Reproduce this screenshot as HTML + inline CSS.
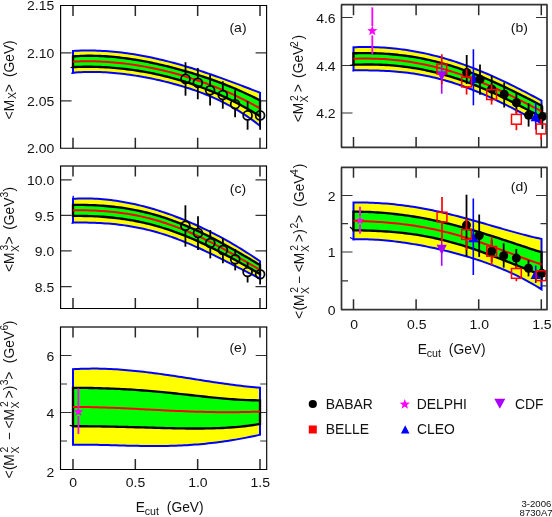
<!DOCTYPE html>
<html><head><meta charset="utf-8"><title>moments</title>
<style>html,body{margin:0;padding:0;background:#fff;}svg{display:block;will-change:transform;}</style></head><body>
<svg width="552" height="517" viewBox="0 0 552 517">
<rect width="552" height="517" fill="#fff"/>
<path d="M73 5.5v10.5M73 148.2v-10.5M135.33 5.5v10.5M135.33 148.2v-10.5M197.67 5.5v10.5M197.67 148.2v-10.5M260 5.5v10.5M260 148.2v-10.5" stroke="#2a2a2a" stroke-width="1.5" fill="none"/>
<path d="M60.6 52.9h11M266.6 52.9h-11M60.6 100.9h11M266.6 100.9h-11" stroke="#333" stroke-width="1.2" fill="none"/>
<polygon points="73,50.92 75.71,50.79 78.42,50.68 81.13,50.59 83.84,50.54 86.55,50.51 89.26,50.52 91.97,50.55 94.68,50.6 97.39,50.69 100.1,50.8 102.81,50.93 105.52,51.1 108.23,51.28 110.94,51.5 113.65,51.74 116.36,52 119.07,52.29 121.78,52.61 124.49,52.95 127.2,53.31 129.91,53.7 132.62,54.11 135.33,54.54 138.04,54.99 140.75,55.47 143.46,55.97 146.17,56.49 148.88,57.04 151.59,57.6 154.3,58.18 157.01,58.79 159.72,59.41 162.43,60.06 165.14,60.72 167.86,61.4 170.57,62.1 173.28,62.82 175.99,63.56 178.7,64.31 181.41,65.08 184.12,65.87 186.83,66.67 189.54,67.49 192.25,68.33 194.96,69.17 197.67,70.04 200.38,70.91 203.09,71.8 205.8,72.71 208.51,73.62 211.22,74.55 213.93,75.49 216.64,76.44 219.35,77.4 222.06,78.37 224.77,79.35 227.48,80.34 230.19,81.34 232.9,82.35 235.61,83.36 238.32,84.38 241.03,85.41 243.74,86.45 246.45,87.49 249.16,88.53 251.87,89.58 254.58,90.63 257.29,91.69 260,92.75 260,125.85 257.29,123.71 254.58,121.65 251.87,119.66 249.16,117.74 246.45,115.88 243.74,114.09 241.03,112.36 238.32,110.68 235.61,109.07 232.9,107.51 230.19,106 227.48,104.54 224.77,103.13 222.06,101.77 219.35,100.46 216.64,99.19 213.93,97.96 211.22,96.77 208.51,95.62 205.8,94.51 203.09,93.44 200.38,92.4 197.67,91.4 194.96,90.42 192.25,89.48 189.54,88.57 186.83,87.69 184.12,86.84 181.41,86.01 178.7,85.22 175.99,84.44 173.28,83.7 170.57,82.97 167.86,82.28 165.14,81.6 162.43,80.95 159.72,80.32 157.01,79.71 154.3,79.13 151.59,78.56 148.88,78.02 146.17,77.5 143.46,77 140.75,76.52 138.04,76.06 135.33,75.63 132.62,75.21 129.91,74.82 127.2,74.45 124.49,74.11 121.78,73.79 119.07,73.49 116.36,73.21 113.65,72.96 110.94,72.74 108.23,72.54 105.52,72.37 102.81,72.22 100.1,72.11 97.39,72.02 94.68,71.97 91.97,71.95 89.26,71.96 86.55,72.01 83.84,72.09 81.13,72.21 78.42,72.36 75.71,72.56 73,72.8" fill="#ffff00" stroke="#0000ff" stroke-width="2" stroke-linejoin="miter"/>
<polygon points="73,56.47 75.71,56.26 78.42,56.08 81.13,55.95 83.84,55.85 86.55,55.79 89.26,55.76 91.97,55.76 94.68,55.8 97.39,55.88 100.1,55.98 102.81,56.11 105.52,56.27 108.23,56.46 110.94,56.68 113.65,56.92 116.36,57.19 119.07,57.49 121.78,57.81 124.49,58.15 127.2,58.52 129.91,58.9 132.62,59.32 135.33,59.75 138.04,60.2 140.75,60.68 143.46,61.17 146.17,61.68 148.88,62.22 151.59,62.77 154.3,63.34 157.01,63.93 159.72,64.54 162.43,65.16 165.14,65.81 167.86,66.47 170.57,67.15 173.28,67.84 175.99,68.55 178.7,69.28 181.41,70.03 184.12,70.8 186.83,71.58 189.54,72.38 192.25,73.2 194.96,74.03 197.67,74.88 200.38,75.75 203.09,76.64 205.8,77.55 208.51,78.48 211.22,79.43 213.93,80.39 216.64,81.38 219.35,82.39 222.06,83.42 224.77,84.47 227.48,85.54 230.19,86.63 232.9,87.75 235.61,88.89 238.32,90.06 241.03,91.26 243.74,92.47 246.45,93.72 249.16,94.99 251.87,96.3 254.58,97.63 257.29,98.99 260,100.38 260,116.27 257.29,114.58 254.58,112.93 251.87,111.31 249.16,109.73 246.45,108.19 243.74,106.69 241.03,105.22 238.32,103.78 235.61,102.37 232.9,101 230.19,99.67 227.48,98.36 224.77,97.09 222.06,95.85 219.35,94.63 216.64,93.45 213.93,92.3 211.22,91.18 208.51,90.08 205.8,89.02 203.09,87.98 200.38,86.97 197.67,85.99 194.96,85.04 192.25,84.11 189.54,83.21 186.83,82.33 184.12,81.48 181.41,80.66 178.7,79.86 175.99,79.09 173.28,78.34 170.57,77.62 167.86,76.92 165.14,76.24 162.43,75.59 159.72,74.96 157.01,74.36 154.3,73.77 151.59,73.22 148.88,72.68 146.17,72.17 143.46,71.68 140.75,71.22 138.04,70.78 135.33,70.36 132.62,69.96 129.91,69.58 127.2,69.23 124.49,68.9 121.78,68.6 119.07,68.32 116.36,68.06 113.65,67.82 110.94,67.6 108.23,67.41 105.52,67.25 102.81,67.1 100.1,66.98 97.39,66.88 94.68,66.81 91.97,66.76 89.26,66.73 86.55,66.73 83.84,66.76 81.13,66.8 78.42,66.88 75.71,66.97 73,67.1" fill="#00ff00" stroke="#000" stroke-width="2.35" stroke-linejoin="miter"/>
<polyline points="73,61.73 75.71,61.58 78.42,61.46 81.13,61.37 83.84,61.31 86.55,61.28 89.26,61.27 91.97,61.3 94.68,61.34 97.39,61.42 100.1,61.52 102.81,61.64 105.52,61.79 108.23,61.97 110.94,62.17 113.65,62.39 116.36,62.64 119.07,62.91 121.78,63.21 124.49,63.53 127.2,63.87 129.91,64.23 132.62,64.62 135.33,65.03 138.04,65.46 140.75,65.91 143.46,66.39 146.17,66.88 148.88,67.4 151.59,67.94 154.3,68.51 157.01,69.09 159.72,69.69 162.43,70.32 165.14,70.97 167.86,71.64 170.57,72.33 173.28,73.04 175.99,73.78 178.7,74.53 181.41,75.31 184.12,76.11 186.83,76.93 189.54,77.78 192.25,78.64 194.96,79.53 197.67,80.44 200.38,81.37 203.09,82.33 205.8,83.31 208.51,84.32 211.22,85.34 213.93,86.39 216.64,87.47 219.35,88.57 222.06,89.7 224.77,90.85 227.48,92.02 230.19,93.22 232.9,94.45 235.61,95.71 238.32,96.99 241.03,98.3 243.74,99.64 246.45,101.01 249.16,102.4 251.87,103.83 254.58,105.28 257.29,106.77 260,108.28" fill="none" stroke="#ff0000" stroke-width="2"/>
<line x1="70.6" y1="67.6" x2="73.2" y2="67.2" stroke="#000" stroke-width="1.3"/>
<line x1="71.2" y1="73.4" x2="73.2" y2="72.9" stroke="#0000ff" stroke-width="1.3"/>
<line x1="185.5" y1="62.2" x2="185.5" y2="74.4" stroke="#000" stroke-width="1.8"/>
<line x1="185.5" y1="83.4" x2="185.5" y2="95.7" stroke="#000" stroke-width="1.8"/>
<line x1="197.8" y1="67.9" x2="197.8" y2="78.3" stroke="#000" stroke-width="1.8"/>
<line x1="197.8" y1="87.3" x2="197.8" y2="99.3" stroke="#000" stroke-width="1.8"/>
<line x1="210.1" y1="75" x2="210.1" y2="85.7" stroke="#000" stroke-width="1.8"/>
<line x1="210.1" y1="94.7" x2="210.1" y2="105.4" stroke="#000" stroke-width="1.8"/>
<line x1="222.8" y1="81.3" x2="222.8" y2="90.5" stroke="#000" stroke-width="1.8"/>
<line x1="222.8" y1="99.5" x2="222.8" y2="108.7" stroke="#000" stroke-width="1.8"/>
<line x1="235.1" y1="90.2" x2="235.1" y2="99.7" stroke="#000" stroke-width="1.8"/>
<line x1="235.1" y1="108.7" x2="235.1" y2="117.2" stroke="#000" stroke-width="1.8"/>
<line x1="247.6" y1="101.3" x2="247.6" y2="110.9" stroke="#000" stroke-width="1.8"/>
<line x1="247.6" y1="119.9" x2="247.6" y2="129.7" stroke="#000" stroke-width="1.8"/>
<line x1="260.1" y1="102" x2="260.1" y2="110.9" stroke="#000" stroke-width="1.8"/>
<line x1="260.1" y1="119.9" x2="260.1" y2="129.7" stroke="#000" stroke-width="1.8"/>
<circle cx="185.5" cy="78.9" r="4.45" fill="none" stroke="#000" stroke-width="1.75"/>
<circle cx="197.8" cy="82.8" r="4.45" fill="none" stroke="#000" stroke-width="1.75"/>
<circle cx="210.1" cy="90.2" r="4.45" fill="none" stroke="#000" stroke-width="1.75"/>
<circle cx="222.8" cy="95" r="4.45" fill="none" stroke="#000" stroke-width="1.75"/>
<circle cx="235.1" cy="104.2" r="4.45" fill="none" stroke="#000" stroke-width="1.75"/>
<circle cx="247.6" cy="115.4" r="4.45" fill="none" stroke="#000" stroke-width="1.75"/>
<circle cx="260.1" cy="115.4" r="4.45" fill="none" stroke="#000" stroke-width="1.75"/>
<line x1="60.1" y1="5.5" x2="267.1" y2="5.5" stroke="#000" stroke-width="1.15"/>
<line x1="266.6" y1="5.5" x2="266.6" y2="148.2" stroke="#000" stroke-width="1.15"/>
<line x1="60.1" y1="148.2" x2="267.1" y2="148.2" stroke="#000" stroke-width="1.15"/>
<line x1="60.6" y1="5.5" x2="60.6" y2="148.2" stroke="#000" stroke-width="1.15"/>
<text transform="translate(54.2 10.2) scale(1.045 1)" text-anchor="end" font-size="13.4" font-family="Liberation Sans, sans-serif" fill="#111">2.15</text>
<text transform="translate(54.2 58.1) scale(1.045 1)" text-anchor="end" font-size="13.4" font-family="Liberation Sans, sans-serif" fill="#111">2.10</text>
<text transform="translate(54.2 106.1) scale(1.045 1)" text-anchor="end" font-size="13.4" font-family="Liberation Sans, sans-serif" fill="#111">2.05</text>
<text transform="translate(54.2 153.4) scale(1.045 1)" text-anchor="end" font-size="13.4" font-family="Liberation Sans, sans-serif" fill="#111">2.00</text>
<text transform="translate(238 32.4) scale(1.045 1)" text-anchor="middle" font-size="13.4" font-family="Liberation Sans, sans-serif" fill="#111">(a)</text>
<path d="M73 166v10.5M73 308.5v-10.5M135.33 166v10.5M135.33 308.5v-10.5M197.67 166v10.5M197.67 308.5v-10.5M260 166v10.5M260 308.5v-10.5" stroke="#2a2a2a" stroke-width="1.5" fill="none"/>
<path d="M60.6 179.8h11M266.5 179.8h-11M60.6 215.3h11M266.5 215.3h-11M60.6 250.8h11M266.5 250.8h-11M60.6 286.7h11M266.5 286.7h-11" stroke="#333" stroke-width="1.2" fill="none"/>
<polygon points="73,198.79 75.71,198.65 78.42,198.54 81.13,198.48 83.84,198.45 86.55,198.46 89.26,198.5 91.97,198.58 94.68,198.69 97.39,198.84 100.1,199.02 102.81,199.24 105.52,199.49 108.23,199.78 110.94,200.09 113.65,200.44 116.36,200.82 119.07,201.23 121.78,201.68 124.49,202.15 127.2,202.66 129.91,203.19 132.62,203.76 135.33,204.35 138.04,204.98 140.75,205.63 143.46,206.31 146.17,207.02 148.88,207.76 151.59,208.53 154.3,209.33 157.01,210.15 159.72,211 162.43,211.88 165.14,212.79 167.86,213.72 170.57,214.68 173.28,215.67 175.99,216.69 178.7,217.73 181.41,218.79 184.12,219.89 186.83,221.01 189.54,222.15 192.25,223.33 194.96,224.53 197.67,225.75 200.38,227 203.09,228.28 205.8,229.58 208.51,230.91 211.22,232.27 213.93,233.65 216.64,235.06 219.35,236.49 222.06,237.95 224.77,239.44 227.48,240.95 230.19,242.49 232.9,244.05 235.61,245.64 238.32,247.26 241.03,248.91 243.74,250.58 246.45,252.28 249.16,254.01 251.87,255.77 254.58,257.55 257.29,259.36 260,261.2 260,278.34 257.29,277.06 254.58,275.75 251.87,274.42 249.16,273.08 246.45,271.72 243.74,270.35 241.03,268.97 238.32,267.59 235.61,266.2 232.9,264.81 230.19,263.42 227.48,262.04 224.77,260.65 222.06,259.28 219.35,257.91 216.64,256.56 213.93,255.21 211.22,253.89 208.51,252.57 205.8,251.28 203.09,250 200.38,248.74 197.67,247.51 194.96,246.3 192.25,245.11 189.54,243.95 186.83,242.81 184.12,241.7 181.41,240.62 178.7,239.57 175.99,238.55 173.28,237.56 170.57,236.6 167.86,235.67 165.14,234.78 162.43,233.92 159.72,233.09 157.01,232.29 154.3,231.53 151.59,230.81 148.88,230.11 146.17,229.45 143.46,228.83 140.75,228.23 138.04,227.67 135.33,227.15 132.62,226.65 129.91,226.19 127.2,225.77 124.49,225.37 121.78,225 119.07,224.66 116.36,224.35 113.65,224.07 110.94,223.82 108.23,223.59 105.52,223.39 102.81,223.21 100.1,223.06 97.39,222.93 94.68,222.81 91.97,222.72 89.26,222.64 86.55,222.58 83.84,222.53 81.13,222.49 78.42,222.47 75.71,222.45 73,222.44" fill="#ffff00" stroke="#0000ff" stroke-width="2" stroke-linejoin="miter"/>
<polygon points="73,204.9 75.71,204.89 78.42,204.9 81.13,204.91 83.84,204.95 86.55,205 89.26,205.08 91.97,205.17 94.68,205.28 97.39,205.42 100.1,205.58 102.81,205.76 105.52,205.97 108.23,206.21 110.94,206.47 113.65,206.75 116.36,207.07 119.07,207.41 121.78,207.78 124.49,208.19 127.2,208.62 129.91,209.08 132.62,209.57 135.33,210.09 138.04,210.65 140.75,211.24 143.46,211.85 146.17,212.51 148.88,213.19 151.59,213.9 154.3,214.65 157.01,215.43 159.72,216.24 162.43,217.09 165.14,217.97 167.86,218.88 170.57,219.82 173.28,220.79 175.99,221.79 178.7,222.83 181.41,223.9 184.12,224.99 186.83,226.12 189.54,227.28 192.25,228.46 194.96,229.67 197.67,230.91 200.38,232.18 203.09,233.48 205.8,234.8 208.51,236.14 211.22,237.51 213.93,238.9 216.64,240.31 219.35,241.75 222.06,243.2 224.77,244.68 227.48,246.17 230.19,247.68 232.9,249.2 235.61,250.74 238.32,252.3 241.03,253.86 243.74,255.44 246.45,257.02 249.16,258.61 251.87,260.21 254.58,261.82 257.29,263.42 260,265.03 260,274.01 257.29,272.46 254.58,270.92 251.87,269.38 249.16,267.84 246.45,266.31 243.74,264.79 241.03,263.27 238.32,261.76 235.61,260.27 232.9,258.78 230.19,257.31 227.48,255.86 224.77,254.42 222.06,253 219.35,251.59 216.64,250.21 213.93,248.84 211.22,247.5 208.51,246.17 205.8,244.88 203.09,243.6 200.38,242.35 197.67,241.12 194.96,239.92 192.25,238.75 189.54,237.6 186.83,236.49 184.12,235.4 181.41,234.34 178.7,233.3 175.99,232.3 173.28,231.33 170.57,230.39 167.86,229.48 165.14,228.6 162.43,227.75 159.72,226.93 157.01,226.14 154.3,225.39 151.59,224.66 148.88,223.97 146.17,223.31 143.46,222.68 140.75,222.08 138.04,221.52 135.33,220.98 132.62,220.47 129.91,219.99 127.2,219.55 124.49,219.13 121.78,218.74 119.07,218.38 116.36,218.05 113.65,217.74 110.94,217.46 108.23,217.21 105.52,216.98 102.81,216.78 100.1,216.6 97.39,216.44 94.68,216.31 91.97,216.19 89.26,216.1 86.55,216.03 83.84,215.97 81.13,215.93 78.42,215.91 75.71,215.9 73,215.9" fill="#00ff00" stroke="#000" stroke-width="2.35" stroke-linejoin="miter"/>
<polyline points="73,210.33 75.71,210.3 78.42,210.3 81.13,210.3 83.84,210.32 86.55,210.37 89.26,210.43 91.97,210.51 94.68,210.61 97.39,210.74 100.1,210.88 102.81,211.06 105.52,211.25 108.23,211.48 110.94,211.73 113.65,212 116.36,212.31 119.07,212.64 121.78,213 124.49,213.39 127.2,213.81 129.91,214.27 132.62,214.75 135.33,215.26 138.04,215.81 140.75,216.39 143.46,217 146.17,217.64 148.88,218.31 151.59,219.02 154.3,219.76 157.01,220.53 159.72,221.33 162.43,222.17 165.14,223.04 167.86,223.94 170.57,224.88 173.28,225.84 175.99,226.84 178.7,227.87 181.41,228.93 184.12,230.02 186.83,231.14 189.54,232.29 192.25,233.47 194.96,234.68 197.67,235.91 200.38,237.17 203.09,238.46 205.8,239.78 208.51,241.12 211.22,242.48 213.93,243.87 216.64,245.28 219.35,246.71 222.06,248.16 224.77,249.63 227.48,251.12 230.19,252.62 232.9,254.14 235.61,255.68 238.32,257.23 241.03,258.79 243.74,260.36 246.45,261.95 249.16,263.54 251.87,265.13 254.58,266.73 257.29,268.34 260,269.95" fill="none" stroke="#ff0000" stroke-width="2"/>
<line x1="73.2" y1="195.8" x2="73.2" y2="199" stroke="#0000ff" stroke-width="1.3"/>
<line x1="71.5" y1="223.3" x2="73.4" y2="222.6" stroke="#0000ff" stroke-width="1.3"/>
<line x1="185.4" y1="205.3" x2="185.4" y2="221.3" stroke="#000" stroke-width="1.8"/>
<line x1="185.4" y1="230.3" x2="185.4" y2="246.7" stroke="#000" stroke-width="1.8"/>
<line x1="198" y1="216.2" x2="198" y2="228.6" stroke="#000" stroke-width="1.8"/>
<line x1="198" y1="237.6" x2="198" y2="250" stroke="#000" stroke-width="1.8"/>
<line x1="210.3" y1="230" x2="210.3" y2="238.6" stroke="#000" stroke-width="1.8"/>
<line x1="210.3" y1="247.6" x2="210.3" y2="258.4" stroke="#000" stroke-width="1.8"/>
<line x1="222.9" y1="238.4" x2="222.9" y2="245.5" stroke="#000" stroke-width="1.8"/>
<line x1="222.9" y1="254.5" x2="222.9" y2="263.3" stroke="#000" stroke-width="1.8"/>
<line x1="235.2" y1="249" x2="235.2" y2="254.7" stroke="#000" stroke-width="1.8"/>
<line x1="235.2" y1="263.7" x2="235.2" y2="270.4" stroke="#000" stroke-width="1.8"/>
<line x1="247.6" y1="262.4" x2="247.6" y2="267.5" stroke="#000" stroke-width="1.8"/>
<line x1="247.6" y1="276.5" x2="247.6" y2="282.5" stroke="#000" stroke-width="1.8"/>
<line x1="260.1" y1="264.5" x2="260.1" y2="269.8" stroke="#000" stroke-width="1.8"/>
<line x1="260.1" y1="278.8" x2="260.1" y2="284.6" stroke="#000" stroke-width="1.8"/>
<circle cx="185.4" cy="225.8" r="4.45" fill="none" stroke="#000" stroke-width="1.75"/>
<circle cx="198" cy="233.1" r="4.45" fill="none" stroke="#000" stroke-width="1.75"/>
<circle cx="210.3" cy="243.1" r="4.45" fill="none" stroke="#000" stroke-width="1.75"/>
<circle cx="222.9" cy="250" r="4.45" fill="none" stroke="#000" stroke-width="1.75"/>
<circle cx="235.2" cy="259.2" r="4.45" fill="none" stroke="#000" stroke-width="1.75"/>
<circle cx="247.6" cy="272" r="4.45" fill="none" stroke="#000" stroke-width="1.75"/>
<circle cx="260.1" cy="274.3" r="4.45" fill="none" stroke="#000" stroke-width="1.75"/>
<line x1="60.1" y1="166" x2="267" y2="166" stroke="#333" stroke-width="1.7"/>
<line x1="266.5" y1="166" x2="266.5" y2="308.5" stroke="#000" stroke-width="1.15"/>
<line x1="60.1" y1="308.5" x2="267" y2="308.5" stroke="#000" stroke-width="1.15"/>
<line x1="60.6" y1="166" x2="60.6" y2="308.5" stroke="#000" stroke-width="1.15"/>
<text transform="translate(54.2 185) scale(1.045 1)" text-anchor="end" font-size="13.4" font-family="Liberation Sans, sans-serif" fill="#111">10.0</text>
<text transform="translate(54.2 220.5) scale(1.045 1)" text-anchor="end" font-size="13.4" font-family="Liberation Sans, sans-serif" fill="#111">9.5</text>
<text transform="translate(54.2 256) scale(1.045 1)" text-anchor="end" font-size="13.4" font-family="Liberation Sans, sans-serif" fill="#111">9.0</text>
<text transform="translate(54.2 291.9) scale(1.045 1)" text-anchor="end" font-size="13.4" font-family="Liberation Sans, sans-serif" fill="#111">8.5</text>
<text transform="translate(238 192.6) scale(1.045 1)" text-anchor="middle" font-size="13.4" font-family="Liberation Sans, sans-serif" fill="#111">(c)</text>
<path d="M73 327v10.5M73 469.5v-10.5M135.33 327v10.5M135.33 469.5v-10.5M197.67 327v10.5M197.67 469.5v-10.5M260 327v10.5M260 469.5v-10.5" stroke="#2a2a2a" stroke-width="1.5" fill="none"/>
<path d="M60.5 355.5h11M266.7 355.5h-11M60.5 384h6.5M266.7 384h-6.5M60.5 412.5h11M266.7 412.5h-11M60.5 441h6.5M266.7 441h-6.5" stroke="#333" stroke-width="1.2" fill="none"/>
<polygon points="73,369.25 75.71,369.09 78.42,368.95 81.13,368.83 83.84,368.74 86.55,368.67 89.26,368.63 91.97,368.6 94.68,368.6 97.39,368.62 100.1,368.67 102.81,368.73 105.52,368.81 108.23,368.92 110.94,369.04 113.65,369.18 116.36,369.34 119.07,369.51 121.78,369.71 124.49,369.92 127.2,370.14 129.91,370.38 132.62,370.64 135.33,370.91 138.04,371.19 140.75,371.49 143.46,371.8 146.17,372.12 148.88,372.45 151.59,372.79 154.3,373.14 157.01,373.51 159.72,373.88 162.43,374.26 165.14,374.64 167.86,375.03 170.57,375.43 173.28,375.84 175.99,376.25 178.7,376.66 181.41,377.08 184.12,377.5 186.83,377.93 189.54,378.35 192.25,378.78 194.96,379.21 197.67,379.63 200.38,380.06 203.09,380.48 205.8,380.9 208.51,381.32 211.22,381.74 213.93,382.15 216.64,382.55 219.35,382.95 222.06,383.35 224.77,383.73 227.48,384.11 230.19,384.48 232.9,384.84 235.61,385.18 238.32,385.52 241.03,385.85 243.74,386.16 246.45,386.46 249.16,386.75 251.87,387.02 254.58,387.27 257.29,387.51 260,387.73 260,434.75 257.29,435.36 254.58,435.95 251.87,436.52 249.16,437.08 246.45,437.62 243.74,438.14 241.03,438.64 238.32,439.13 235.61,439.61 232.9,440.06 230.19,440.5 227.48,440.92 224.77,441.32 222.06,441.7 219.35,442.07 216.64,442.42 213.93,442.75 211.22,443.06 208.51,443.36 205.8,443.64 203.09,443.9 200.38,444.15 197.67,444.38 194.96,444.59 192.25,444.79 189.54,444.97 186.83,445.13 184.12,445.28 181.41,445.42 178.7,445.54 175.99,445.64 173.28,445.74 170.57,445.81 167.86,445.88 165.14,445.93 162.43,445.97 159.72,446 157.01,446.02 154.3,446.02 151.59,446.02 148.88,446.01 146.17,445.98 143.46,445.95 140.75,445.91 138.04,445.87 135.33,445.82 132.62,445.76 129.91,445.7 127.2,445.63 124.49,445.56 121.78,445.49 119.07,445.42 116.36,445.34 113.65,445.27 110.94,445.19 108.23,445.12 105.52,445.05 102.81,444.99 100.1,444.93 97.39,444.87 94.68,444.82 91.97,444.78 89.26,444.75 86.55,444.73 83.84,444.72 81.13,444.72 78.42,444.73 75.71,444.76 73,444.81" fill="#ffff00" stroke="#0000ff" stroke-width="2" stroke-linejoin="miter"/>
<polygon points="73,387.8 75.71,387.82 78.42,387.84 81.13,387.87 83.84,387.91 86.55,387.95 89.26,387.99 91.97,388.04 94.68,388.1 97.39,388.16 100.1,388.23 102.81,388.3 105.52,388.39 108.23,388.48 110.94,388.58 113.65,388.69 116.36,388.81 119.07,388.94 121.78,389.07 124.49,389.22 127.2,389.37 129.91,389.53 132.62,389.7 135.33,389.88 138.04,390.07 140.75,390.27 143.46,390.47 146.17,390.69 148.88,390.91 151.59,391.14 154.3,391.38 157.01,391.62 159.72,391.87 162.43,392.13 165.14,392.4 167.86,392.67 170.57,392.94 173.28,393.22 175.99,393.51 178.7,393.8 181.41,394.09 184.12,394.38 186.83,394.68 189.54,394.98 192.25,395.28 194.96,395.58 197.67,395.88 200.38,396.17 203.09,396.47 205.8,396.76 208.51,397.05 211.22,397.33 213.93,397.6 216.64,397.87 219.35,398.13 222.06,398.38 224.77,398.62 227.48,398.85 230.19,399.07 232.9,399.28 235.61,399.47 238.32,399.64 241.03,399.8 243.74,399.93 246.45,400.05 249.16,400.15 251.87,400.22 254.58,400.27 257.29,400.3 260,400.3 260,424.01 257.29,424.46 254.58,424.88 251.87,425.28 249.16,425.64 246.45,425.98 243.74,426.29 241.03,426.57 238.32,426.84 235.61,427.08 232.9,427.29 230.19,427.49 227.48,427.66 224.77,427.82 222.06,427.96 219.35,428.08 216.64,428.18 213.93,428.27 211.22,428.34 208.51,428.4 205.8,428.45 203.09,428.48 200.38,428.51 197.67,428.52 194.96,428.52 192.25,428.51 189.54,428.49 186.83,428.47 184.12,428.44 181.41,428.4 178.7,428.35 175.99,428.3 173.28,428.25 170.57,428.19 167.86,428.12 165.14,428.05 162.43,427.98 159.72,427.91 157.01,427.84 154.3,427.76 151.59,427.68 148.88,427.6 146.17,427.52 143.46,427.45 140.75,427.37 138.04,427.29 135.33,427.22 132.62,427.14 129.91,427.07 127.2,427 124.49,426.93 121.78,426.86 119.07,426.8 116.36,426.74 113.65,426.68 110.94,426.62 108.23,426.57 105.52,426.52 102.81,426.48 100.1,426.44 97.39,426.4 94.68,426.36 91.97,426.33 89.26,426.3 86.55,426.28 83.84,426.26 81.13,426.24 78.42,426.22 75.71,426.21 73,426.2" fill="#00ff00" stroke="#000" stroke-width="2.35" stroke-linejoin="miter"/>
<polyline points="73,406.99 75.71,406.99 78.42,406.99 81.13,407.01 83.84,407.04 86.55,407.08 89.26,407.12 91.97,407.18 94.68,407.24 97.39,407.31 100.1,407.38 102.81,407.47 105.52,407.56 108.23,407.66 110.94,407.76 113.65,407.86 116.36,407.98 119.07,408.09 121.78,408.21 124.49,408.34 127.2,408.46 129.91,408.59 132.62,408.73 135.33,408.86 138.04,409 140.75,409.14 143.46,409.27 146.17,409.41 148.88,409.55 151.59,409.69 154.3,409.83 157.01,409.97 159.72,410.11 162.43,410.24 165.14,410.38 167.86,410.51 170.57,410.64 173.28,410.76 175.99,410.89 178.7,411.01 181.41,411.12 184.12,411.23 186.83,411.34 189.54,411.44 192.25,411.54 194.96,411.63 197.67,411.72 200.38,411.8 203.09,411.87 205.8,411.94 208.51,412 211.22,412.06 213.93,412.1 216.64,412.14 219.35,412.17 222.06,412.2 224.77,412.21 227.48,412.22 230.19,412.21 232.9,412.2 235.61,412.18 238.32,412.14 241.03,412.1 243.74,412.05 246.45,411.99 249.16,411.91 251.87,411.83 254.58,411.73 257.29,411.63 260,411.51" fill="none" stroke="#ff0000" stroke-width="2"/>
<line x1="69.7" y1="425.3" x2="73.2" y2="426.1" stroke="#000" stroke-width="1.3"/>
<line x1="78.4" y1="388.3" x2="78.4" y2="407.3" stroke="#ff00ff" stroke-width="1.8"/>
<line x1="78.4" y1="416.05" x2="78.4" y2="434" stroke="#ff00ff" stroke-width="1.8"/>
<polygon points="78.4,406.8 79.63,410.1 83.16,410.25 80.4,412.45 81.34,415.85 78.4,413.9 75.46,415.85 76.4,412.45 73.64,410.25 77.17,410.1" fill="#ff00ff"/>
<line x1="60" y1="327" x2="267.2" y2="327" stroke="#333" stroke-width="1.7"/>
<line x1="266.7" y1="327" x2="266.7" y2="469.5" stroke="#000" stroke-width="1.15"/>
<line x1="60" y1="469.5" x2="267.2" y2="469.5" stroke="#000" stroke-width="1.15"/>
<line x1="60.5" y1="327" x2="60.5" y2="469.5" stroke="#000" stroke-width="1.15"/>
<text transform="translate(54.2 360.7) scale(1.045 1)" text-anchor="end" font-size="13.4" font-family="Liberation Sans, sans-serif" fill="#111">6</text>
<text transform="translate(54.2 417.7) scale(1.045 1)" text-anchor="end" font-size="13.4" font-family="Liberation Sans, sans-serif" fill="#111">4</text>
<text transform="translate(54.2 476.7) scale(1.045 1)" text-anchor="end" font-size="13.4" font-family="Liberation Sans, sans-serif" fill="#111">2</text>
<text transform="translate(238 351.5) scale(1.045 1)" text-anchor="middle" font-size="13.4" font-family="Liberation Sans, sans-serif" fill="#111">(e)</text>
<path d="M353.5 4.7v10.5M353.5 147.4v-10.5M416.1 4.7v10.5M416.1 147.4v-10.5M478.7 4.7v10.5M478.7 147.4v-10.5M541.3 4.7v10.5M541.3 147.4v-10.5" stroke="#2a2a2a" stroke-width="1.5" fill="none"/>
<path d="M341.5 17.5h11M547 17.5h-11M341.5 65.5h11M547 65.5h-11M341.5 113h11M547 113h-11" stroke="#333" stroke-width="1.2" fill="none"/>
<polygon points="353.5,47.22 356.22,47.13 358.95,47.07 361.67,47.03 364.4,47.02 367.12,47.02 369.85,47.06 372.57,47.12 375.3,47.2 378.02,47.31 380.75,47.44 383.47,47.6 386.2,47.79 388.92,48.01 391.64,48.25 394.37,48.51 397.09,48.81 399.82,49.13 402.54,49.48 405.27,49.86 407.99,50.27 410.72,50.7 413.44,51.16 416.17,51.65 418.89,52.17 421.62,52.71 424.34,53.28 427.07,53.88 429.79,54.51 432.51,55.16 435.24,55.85 437.96,56.56 440.69,57.3 443.41,58.06 446.14,58.85 448.86,59.67 451.59,60.51 454.31,61.38 457.04,62.28 459.76,63.2 462.49,64.15 465.21,65.12 467.93,66.12 470.66,67.14 473.38,68.19 476.11,69.26 478.83,70.35 481.56,71.47 484.28,72.61 487.01,73.77 489.73,74.95 492.46,76.15 495.18,77.37 497.91,78.61 500.63,79.87 503.36,81.15 506.08,82.45 508.8,83.76 511.53,85.09 514.25,86.44 516.98,87.8 519.7,89.18 522.43,90.57 525.15,91.97 527.88,93.39 530.6,94.81 533.33,96.25 536.05,97.7 538.78,99.15 541.5,100.62 541.5,123.26 538.78,121.85 536.05,120.44 533.33,119.02 530.6,117.6 527.88,116.18 525.15,114.75 522.43,113.34 519.7,111.92 516.98,110.51 514.25,109.11 511.53,107.72 508.8,106.34 506.08,104.98 503.36,103.63 500.63,102.29 497.91,100.98 495.18,99.68 492.46,98.4 489.73,97.14 487.01,95.91 484.28,94.7 481.56,93.51 478.83,92.35 476.11,91.22 473.38,90.11 470.66,89.03 467.93,87.98 465.21,86.96 462.49,85.97 459.76,85.01 457.04,84.08 454.31,83.18 451.59,82.32 448.86,81.48 446.14,80.68 443.41,79.91 440.69,79.18 437.96,78.47 435.24,77.8 432.51,77.16 429.79,76.56 427.07,75.99 424.34,75.44 421.62,74.93 418.89,74.46 416.17,74.01 413.44,73.59 410.72,73.21 407.99,72.85 405.27,72.52 402.54,72.22 399.82,71.94 397.09,71.69 394.37,71.47 391.64,71.27 388.92,71.09 386.2,70.94 383.47,70.81 380.75,70.69 378.02,70.6 375.3,70.52 372.57,70.46 369.85,70.41 367.12,70.37 364.4,70.35 361.67,70.33 358.95,70.32 356.22,70.32 353.5,70.32" fill="#ffff00" stroke="#0000ff" stroke-width="2" stroke-linejoin="miter"/>
<polygon points="353.5,53.27 356.22,53.21 358.95,53.16 361.67,53.13 364.4,53.12 367.12,53.13 369.85,53.16 372.57,53.21 375.3,53.29 378.02,53.39 380.75,53.51 383.47,53.65 386.2,53.83 388.92,54.02 391.64,54.24 394.37,54.49 397.09,54.76 399.82,55.06 402.54,55.39 405.27,55.74 407.99,56.12 410.72,56.52 413.44,56.96 416.17,57.42 418.89,57.91 421.62,58.43 424.34,58.98 427.07,59.55 429.79,60.15 432.51,60.78 435.24,61.44 437.96,62.13 440.69,62.84 443.41,63.58 446.14,64.35 448.86,65.15 451.59,65.98 454.31,66.83 457.04,67.71 459.76,68.61 462.49,69.54 465.21,70.5 467.93,71.48 470.66,72.49 473.38,73.52 476.11,74.58 478.83,75.66 481.56,76.77 484.28,77.89 487.01,79.04 489.73,80.21 492.46,81.41 495.18,82.62 497.91,83.85 500.63,85.1 503.36,86.37 506.08,87.66 508.8,88.97 511.53,90.29 514.25,91.62 516.98,92.97 519.7,94.34 522.43,95.72 525.15,97.1 527.88,98.5 530.6,99.91 533.33,101.33 536.05,102.76 538.78,104.19 541.5,105.63 541.5,117.29 538.78,115.82 536.05,114.35 533.33,112.89 530.6,111.44 527.88,109.99 525.15,108.56 522.43,107.14 519.7,105.74 516.98,104.34 514.25,102.96 511.53,101.6 508.8,100.25 506.08,98.92 503.36,97.61 500.63,96.32 497.91,95.04 495.18,93.79 492.46,92.56 489.73,91.35 487.01,90.16 484.28,88.99 481.56,87.85 478.83,86.73 476.11,85.64 473.38,84.57 470.66,83.52 467.93,82.5 465.21,81.51 462.49,80.55 459.76,79.61 457.04,78.7 454.31,77.81 451.59,76.96 448.86,76.13 446.14,75.33 443.41,74.56 440.69,73.82 437.96,73.1 435.24,72.42 432.51,71.76 429.79,71.14 427.07,70.54 424.34,69.97 421.62,69.43 418.89,68.92 416.17,68.44 413.44,67.99 410.72,67.57 407.99,67.17 405.27,66.81 402.54,66.47 399.82,66.16 397.09,65.88 394.37,65.62 391.64,65.39 388.92,65.19 386.2,65.02 383.47,64.87 380.75,64.75 378.02,64.65 375.3,64.57 372.57,64.52 369.85,64.5 367.12,64.49 364.4,64.51 361.67,64.55 358.95,64.61 356.22,64.7 353.5,64.8" fill="#00ff00" stroke="#000" stroke-width="2.35" stroke-linejoin="miter"/>
<polyline points="353.5,58.72 356.22,58.65 358.95,58.61 361.67,58.58 364.4,58.57 367.12,58.58 369.85,58.61 372.57,58.66 375.3,58.74 378.02,58.84 380.75,58.97 383.47,59.11 386.2,59.29 388.92,59.48 391.64,59.71 394.37,59.96 397.09,60.23 399.82,60.53 402.54,60.86 405.27,61.21 407.99,61.6 410.72,62.01 413.44,62.44 416.17,62.91 418.89,63.4 421.62,63.92 424.34,64.47 427.07,65.05 429.79,65.66 432.51,66.29 435.24,66.95 437.96,67.64 440.69,68.36 443.41,69.11 446.14,69.88 448.86,70.68 451.59,71.51 454.31,72.37 457.04,73.25 459.76,74.16 462.49,75.1 465.21,76.06 467.93,77.05 470.66,78.06 473.38,79.1 476.11,80.16 478.83,81.25 481.56,82.36 484.28,83.49 487.01,84.65 489.73,85.82 492.46,87.02 495.18,88.24 497.91,89.48 500.63,90.74 503.36,92.01 506.08,93.31 508.8,94.62 511.53,95.95 514.25,97.29 516.98,98.65 519.7,100.02 522.43,101.4 525.15,102.8 527.88,104.21 530.6,105.62 533.33,107.05 536.05,108.48 538.78,109.92 541.5,111.37" fill="none" stroke="#ff0000" stroke-width="2"/>
<line x1="350" y1="65.4" x2="354" y2="65" stroke="#000" stroke-width="1.3"/>
<line x1="352.6" y1="71.2" x2="354" y2="70.4" stroke="#0000ff" stroke-width="1.3"/>
<line x1="372.3" y1="7.3" x2="372.3" y2="26.13" stroke="#ff00ff" stroke-width="1.8"/>
<line x1="372.3" y1="35.41" x2="372.3" y2="54.5" stroke="#ff00ff" stroke-width="1.8"/>
<polygon points="372.3,25.6 373.61,29.1 377.34,29.26 374.42,31.59 375.42,35.19 372.3,33.13 369.18,35.19 370.18,31.59 367.26,29.26 370.99,29.1" fill="#ff00ff"/>
<line x1="441.7" y1="65" x2="441.7" y2="93.7" stroke="#aa00ff" stroke-width="1.6"/>
<line x1="473.4" y1="49.3" x2="473.4" y2="105.3" stroke="#0000ff" stroke-width="1.6"/>
<polygon points="473.6,72.9 468.4,82.9 478.8,82.9" fill="#0000ff"/>
<line x1="535.7" y1="102.3" x2="535.7" y2="129.6" stroke="#0000ff" stroke-width="1.6"/>
<polygon points="535.7,111.3 530.6,121.3 540.8,121.3" fill="#0000ff"/>
<line x1="466.7" y1="55" x2="466.7" y2="84" stroke="#000" stroke-width="1.8"/>
<line x1="480" y1="64.5" x2="480" y2="94.7" stroke="#000" stroke-width="1.8"/>
<line x1="491.7" y1="75.8" x2="491.7" y2="101" stroke="#000" stroke-width="1.8"/>
<line x1="504.2" y1="82.5" x2="504.2" y2="107.5" stroke="#000" stroke-width="1.8"/>
<line x1="516.4" y1="92.5" x2="516.4" y2="113" stroke="#000" stroke-width="1.8"/>
<line x1="528.6" y1="103.3" x2="528.6" y2="126.6" stroke="#000" stroke-width="1.8"/>
<line x1="542.4" y1="106.3" x2="542.4" y2="128.9" stroke="#000" stroke-width="1.8"/>
<circle cx="466.7" cy="72.5" r="4.5" fill="#000"/>
<circle cx="480" cy="79.2" r="4.5" fill="#000"/>
<circle cx="491.7" cy="89" r="4.5" fill="#000"/>
<circle cx="504.2" cy="94.2" r="4.5" fill="#000"/>
<circle cx="516.4" cy="102.8" r="4.5" fill="#000"/>
<circle cx="528.6" cy="115.2" r="4.5" fill="#000"/>
<circle cx="542.4" cy="116.6" r="4.5" fill="#000"/>
<line x1="441.8" y1="54.3" x2="441.8" y2="64.1" stroke="#ff0000" stroke-width="1.7"/>
<line x1="441.8" y1="73.9" x2="441.8" y2="84.2" stroke="#ff0000" stroke-width="1.7"/>
<line x1="466.6" y1="69.2" x2="466.6" y2="77.1" stroke="#ff0000" stroke-width="1.7"/>
<line x1="466.6" y1="86.9" x2="466.6" y2="94.6" stroke="#ff0000" stroke-width="1.7"/>
<line x1="491.6" y1="84.3" x2="491.6" y2="89.7" stroke="#ff0000" stroke-width="1.7"/>
<line x1="491.6" y1="99.5" x2="491.6" y2="104.6" stroke="#ff0000" stroke-width="1.7"/>
<line x1="516.4" y1="109.2" x2="516.4" y2="114.4" stroke="#ff0000" stroke-width="1.7"/>
<line x1="516.4" y1="124.2" x2="516.4" y2="130.2" stroke="#ff0000" stroke-width="1.7"/>
<line x1="541.1" y1="119" x2="541.1" y2="124.1" stroke="#ff0000" stroke-width="1.7"/>
<line x1="541.1" y1="133.9" x2="541.1" y2="139.5" stroke="#ff0000" stroke-width="1.7"/>
<rect x="436.9" y="64.1" width="9.8" height="9.8" fill="none" stroke="#ff0000" stroke-width="1.5"/>
<rect x="461.7" y="77.1" width="9.8" height="9.8" fill="none" stroke="#ff0000" stroke-width="1.5"/>
<rect x="486.7" y="89.7" width="9.8" height="9.8" fill="none" stroke="#ff0000" stroke-width="1.5"/>
<rect x="511.5" y="114.4" width="9.8" height="9.8" fill="none" stroke="#ff0000" stroke-width="1.5"/>
<rect x="536.2" y="124.1" width="9.8" height="9.8" fill="none" stroke="#ff0000" stroke-width="1.5"/>
<polygon points="436.7,71.3 446.9,71.3 441.8,80.7" fill="#aa00ff"/>
<line x1="341" y1="4.7" x2="547.5" y2="4.7" stroke="#333" stroke-width="1.7"/>
<line x1="547" y1="4.7" x2="547" y2="147.4" stroke="#333" stroke-width="1.7"/>
<line x1="341" y1="147.4" x2="547.5" y2="147.4" stroke="#333" stroke-width="1.7"/>
<line x1="341.5" y1="4.7" x2="341.5" y2="147.4" stroke="#333" stroke-width="1.7"/>
<text transform="translate(335.6 22.7) scale(1.045 1)" text-anchor="end" font-size="13.4" font-family="Liberation Sans, sans-serif" fill="#111">4.6</text>
<text transform="translate(335.6 70.7) scale(1.045 1)" text-anchor="end" font-size="13.4" font-family="Liberation Sans, sans-serif" fill="#111">4.4</text>
<text transform="translate(335.6 118.2) scale(1.045 1)" text-anchor="end" font-size="13.4" font-family="Liberation Sans, sans-serif" fill="#111">4.2</text>
<text transform="translate(519.4 32.2) scale(1.045 1)" text-anchor="middle" font-size="13.4" font-family="Liberation Sans, sans-serif" fill="#111">(b)</text>
<path d="M353.5 167.3v10.5M353.5 309.7v-10.5M416.1 167.3v10.5M416.1 309.7v-10.5M478.7 167.3v10.5M478.7 309.7v-10.5M541.3 167.3v10.5M541.3 309.7v-10.5" stroke="#2a2a2a" stroke-width="1.5" fill="none"/>
<path d="M341.5 195.5h11M547 195.5h-11M341.5 223.7h6.5M547 223.7h-6.5M341.5 252h11M547 252h-11M341.5 280.8h6.5M547 285.8h-6.5" stroke="#333" stroke-width="1.2" fill="none"/>
<polygon points="353.5,202.48 356.22,202.47 358.95,202.47 361.67,202.49 364.4,202.53 367.12,202.59 369.85,202.67 372.57,202.78 375.3,202.9 378.02,203.04 380.75,203.21 383.47,203.39 386.2,203.6 388.92,203.83 391.64,204.08 394.37,204.35 397.09,204.64 399.82,204.96 402.54,205.29 405.27,205.65 407.99,206.03 410.72,206.42 413.44,206.84 416.17,207.28 418.89,207.74 421.62,208.22 424.34,208.72 427.07,209.24 429.79,209.78 432.51,210.33 435.24,210.9 437.96,211.49 440.69,212.1 443.41,212.72 446.14,213.36 448.86,214.02 451.59,214.69 454.31,215.37 457.04,216.07 459.76,216.78 462.49,217.5 465.21,218.23 467.93,218.97 470.66,219.72 473.38,220.48 476.11,221.24 478.83,222.02 481.56,222.79 484.28,223.58 487.01,224.36 489.73,225.15 492.46,225.94 495.18,226.73 497.91,227.52 500.63,228.31 503.36,229.09 506.08,229.87 508.8,230.64 511.53,231.41 514.25,232.16 516.98,232.91 519.7,233.64 522.43,234.37 525.15,235.07 527.88,235.77 530.6,236.44 533.33,237.1 536.05,237.73 538.78,238.35 541.5,238.94 541.5,289.36 538.78,287.66 536.05,286 533.33,284.39 530.6,282.83 527.88,281.31 525.15,279.84 522.43,278.41 519.7,277.02 516.98,275.67 514.25,274.36 511.53,273.09 508.8,271.85 506.08,270.64 503.36,269.47 500.63,268.33 497.91,267.22 495.18,266.15 492.46,265.1 489.73,264.07 487.01,263.08 484.28,262.11 481.56,261.17 478.83,260.25 476.11,259.35 473.38,258.48 470.66,257.63 467.93,256.8 465.21,255.99 462.49,255.2 459.76,254.43 457.04,253.68 454.31,252.95 451.59,252.24 448.86,251.54 446.14,250.87 443.41,250.21 440.69,249.57 437.96,248.95 435.24,248.34 432.51,247.75 429.79,247.18 427.07,246.63 424.34,246.09 421.62,245.57 418.89,245.07 416.17,244.58 413.44,244.12 410.72,243.67 407.99,243.24 405.27,242.82 402.54,242.43 399.82,242.06 397.09,241.71 394.37,241.37 391.64,241.06 388.92,240.77 386.2,240.51 383.47,240.26 380.75,240.04 378.02,239.85 375.3,239.68 372.57,239.54 369.85,239.42 367.12,239.33 364.4,239.28 361.67,239.25 358.95,239.25 356.22,239.29 353.5,239.36" fill="#ffff00" stroke="#0000ff" stroke-width="2" stroke-linejoin="miter"/>
<polygon points="353.5,211.59 356.22,211.62 358.95,211.67 361.67,211.74 364.4,211.82 367.12,211.92 369.85,212.04 372.57,212.18 375.3,212.33 378.02,212.51 380.75,212.7 383.47,212.91 386.2,213.15 388.92,213.4 391.64,213.67 394.37,213.96 397.09,214.26 399.82,214.59 402.54,214.94 405.27,215.31 407.99,215.69 410.72,216.1 413.44,216.53 416.17,216.97 418.89,217.43 421.62,217.92 424.34,218.42 427.07,218.94 429.79,219.48 432.51,220.04 435.24,220.61 437.96,221.21 440.69,221.82 443.41,222.45 446.14,223.09 448.86,223.75 451.59,224.43 454.31,225.13 457.04,225.83 459.76,226.56 462.49,227.3 465.21,228.05 467.93,228.82 470.66,229.6 473.38,230.39 476.11,231.19 478.83,232.01 481.56,232.84 484.28,233.67 487.01,234.52 489.73,235.38 492.46,236.24 495.18,237.11 497.91,237.99 500.63,238.87 503.36,239.76 506.08,240.66 508.8,241.55 511.53,242.45 514.25,243.36 516.98,244.26 519.7,245.16 522.43,246.07 525.15,246.97 527.88,247.87 530.6,248.76 533.33,249.66 536.05,250.54 538.78,251.42 541.5,252.29 541.5,274.89 538.78,273.89 536.05,272.87 533.33,271.84 530.6,270.8 527.88,269.74 525.15,268.68 522.43,267.6 519.7,266.53 516.98,265.45 514.25,264.36 511.53,263.28 508.8,262.2 506.08,261.13 503.36,260.05 500.63,258.99 497.91,257.93 495.18,256.88 492.46,255.84 489.73,254.82 487.01,253.81 484.28,252.81 481.56,251.82 478.83,250.86 476.11,249.91 473.38,248.98 470.66,248.07 467.93,247.17 465.21,246.3 462.49,245.45 459.76,244.62 457.04,243.82 454.31,243.04 451.59,242.28 448.86,241.55 446.14,240.84 443.41,240.15 440.69,239.5 437.96,238.86 435.24,238.25 432.51,237.67 429.79,237.11 427.07,236.58 424.34,236.08 421.62,235.6 418.89,235.14 416.17,234.71 413.44,234.3 410.72,233.92 407.99,233.56 405.27,233.23 402.54,232.92 399.82,232.63 397.09,232.36 394.37,232.11 391.64,231.89 388.92,231.68 386.2,231.49 383.47,231.32 380.75,231.16 378.02,231.02 375.3,230.9 372.57,230.78 369.85,230.68 367.12,230.6 364.4,230.52 361.67,230.44 358.95,230.38 356.22,230.32 353.5,230.26" fill="#00ff00" stroke="#000" stroke-width="2.35" stroke-linejoin="miter"/>
<polyline points="353.5,220.7 356.22,220.82 358.95,220.94 361.67,221.06 364.4,221.19 367.12,221.32 369.85,221.46 372.57,221.61 375.3,221.76 378.02,221.93 380.75,222.11 383.47,222.31 386.2,222.52 388.92,222.74 391.64,222.98 394.37,223.24 397.09,223.51 399.82,223.81 402.54,224.12 405.27,224.45 407.99,224.81 410.72,225.18 413.44,225.58 416.17,226 418.89,226.44 421.62,226.91 424.34,227.39 427.07,227.91 429.79,228.44 432.51,229 435.24,229.58 437.96,230.18 440.69,230.81 443.41,231.46 446.14,232.13 448.86,232.83 451.59,233.55 454.31,234.29 457.04,235.05 459.76,235.83 462.49,236.64 465.21,237.46 467.93,238.31 470.66,239.17 473.38,240.05 476.11,240.94 478.83,241.86 481.56,242.78 484.28,243.73 487.01,244.68 489.73,245.65 492.46,246.63 495.18,247.62 497.91,248.61 500.63,249.62 503.36,250.63 506.08,251.64 508.8,252.66 511.53,253.67 514.25,254.69 516.98,255.71 519.7,256.72 522.43,257.72 525.15,258.72 527.88,259.71 530.6,260.69 533.33,261.66 536.05,262.6 538.78,263.54 541.5,264.45" fill="none" stroke="#ff0000" stroke-width="2"/>
<line x1="350" y1="227" x2="354.2" y2="230.8" stroke="#000" stroke-width="1.3"/>
<line x1="350" y1="237.5" x2="354.2" y2="239.6" stroke="#0000ff" stroke-width="1.3"/>
<line x1="360" y1="206.7" x2="360" y2="216.36" stroke="#ff00ff" stroke-width="1.8"/>
<line x1="360" y1="224.41" x2="360" y2="233.7" stroke="#ff00ff" stroke-width="1.8"/>
<polygon points="360,215.9 361.14,218.94 364.37,219.08 361.84,221.1 362.7,224.22 360,222.43 357.3,224.22 358.16,221.1 355.63,219.08 358.86,218.94" fill="#ff00ff"/>
<line x1="441.7" y1="241" x2="441.7" y2="265.8" stroke="#aa00ff" stroke-width="1.6"/>
<polygon points="436.55,244.8 446.85,244.8 441.7,254.4" fill="#aa00ff"/>
<line x1="473.3" y1="198.5" x2="473.3" y2="275" stroke="#0000ff" stroke-width="1.6"/>
<polygon points="473.4,232.3 468.2,242.3 478.6,242.3" fill="#0000ff"/>
<line x1="535.7" y1="265.6" x2="535.7" y2="283" stroke="#0000ff" stroke-width="1.6"/>
<polygon points="535.7,268.9 530.6,278.9 540.8,278.9" fill="#0000ff"/>
<line x1="466.5" y1="194.7" x2="466.5" y2="256.3" stroke="#000" stroke-width="1.8"/>
<line x1="479.2" y1="214.5" x2="479.2" y2="256.9" stroke="#000" stroke-width="1.8"/>
<line x1="491.7" y1="240" x2="491.7" y2="262" stroke="#000" stroke-width="1.8"/>
<line x1="503.7" y1="243.3" x2="503.7" y2="267.6" stroke="#000" stroke-width="1.8"/>
<line x1="516.3" y1="248.9" x2="516.3" y2="267.9" stroke="#000" stroke-width="1.8"/>
<line x1="528.5" y1="260.4" x2="528.5" y2="276.4" stroke="#000" stroke-width="1.8"/>
<line x1="541.8" y1="267" x2="541.8" y2="280" stroke="#000" stroke-width="1.8"/>
<circle cx="466.5" cy="225.1" r="4.5" fill="#000"/>
<circle cx="479.2" cy="235.5" r="4.5" fill="#000"/>
<circle cx="491.7" cy="251.2" r="4.5" fill="#000"/>
<circle cx="503.7" cy="255.7" r="4.5" fill="#000"/>
<circle cx="516.3" cy="258.1" r="4.5" fill="#000"/>
<circle cx="528.5" cy="268.2" r="4.5" fill="#000"/>
<circle cx="541.8" cy="273.3" r="4.5" fill="#000"/>
<line x1="442" y1="197" x2="442" y2="212.2" stroke="#ff0000" stroke-width="1.7"/>
<line x1="442" y1="222" x2="442" y2="241" stroke="#ff0000" stroke-width="1.7"/>
<line x1="466.5" y1="218.3" x2="466.5" y2="229.6" stroke="#ff0000" stroke-width="1.7"/>
<line x1="466.5" y1="239.4" x2="466.5" y2="250" stroke="#ff0000" stroke-width="1.7"/>
<line x1="491.7" y1="236.7" x2="491.7" y2="246.4" stroke="#ff0000" stroke-width="1.7"/>
<line x1="491.7" y1="256.2" x2="491.7" y2="265" stroke="#ff0000" stroke-width="1.7"/>
<line x1="516.4" y1="265.6" x2="516.4" y2="268.5" stroke="#ff0000" stroke-width="1.7"/>
<line x1="516.4" y1="278.3" x2="516.4" y2="281.2" stroke="#ff0000" stroke-width="1.7"/>
<line x1="541.1" y1="270" x2="541.1" y2="270.8" stroke="#ff0000" stroke-width="1.7"/>
<line x1="541.1" y1="280.6" x2="541.1" y2="281.6" stroke="#ff0000" stroke-width="1.7"/>
<rect x="437.1" y="212.2" width="9.8" height="9.8" fill="none" stroke="#ff0000" stroke-width="1.5"/>
<rect x="461.6" y="229.6" width="9.8" height="9.8" fill="none" stroke="#ff0000" stroke-width="1.5"/>
<rect x="486.8" y="246.4" width="9.8" height="9.8" fill="none" stroke="#ff0000" stroke-width="1.5"/>
<rect x="511.5" y="268.5" width="9.8" height="9.8" fill="none" stroke="#ff0000" stroke-width="1.5"/>
<rect x="536.2" y="270.8" width="9.8" height="9.8" fill="none" stroke="#ff0000" stroke-width="1.5"/>
<line x1="341" y1="167.3" x2="547.5" y2="167.3" stroke="#333" stroke-width="1.7"/>
<line x1="547" y1="167.3" x2="547" y2="309.7" stroke="#333" stroke-width="1.7"/>
<line x1="341" y1="309.7" x2="547.5" y2="309.7" stroke="#333" stroke-width="1.7"/>
<line x1="341.5" y1="167.3" x2="341.5" y2="309.7" stroke="#333" stroke-width="1.7"/>
<text transform="translate(335.6 200.7) scale(1.045 1)" text-anchor="end" font-size="13.4" font-family="Liberation Sans, sans-serif" fill="#111">2</text>
<text transform="translate(335.6 257.2) scale(1.045 1)" text-anchor="end" font-size="13.4" font-family="Liberation Sans, sans-serif" fill="#111">1</text>
<text transform="translate(335.6 315.2) scale(1.045 1)" text-anchor="end" font-size="13.4" font-family="Liberation Sans, sans-serif" fill="#111">0</text>
<text transform="translate(519.4 191.3) scale(1.045 1)" text-anchor="middle" font-size="13.4" font-family="Liberation Sans, sans-serif" fill="#111">(d)</text>
<text transform="translate(354.1 329.4) scale(1.045 1)" text-anchor="middle" font-size="13.4" font-family="Liberation Sans, sans-serif" fill="#111">0</text>
<text transform="translate(416.7 329.4) scale(1.045 1)" text-anchor="middle" font-size="13.4" font-family="Liberation Sans, sans-serif" fill="#111">0.5</text>
<text transform="translate(479.3 329.4) scale(1.045 1)" text-anchor="middle" font-size="13.4" font-family="Liberation Sans, sans-serif" fill="#111">1.0</text>
<text transform="translate(541.9 329.4) scale(1.045 1)" text-anchor="middle" font-size="13.4" font-family="Liberation Sans, sans-serif" fill="#111">1.5</text>
<text transform="translate(73.2 487.3) scale(1.045 1)" text-anchor="middle" font-size="13.4" font-family="Liberation Sans, sans-serif" fill="#111">0</text>
<text transform="translate(135.53 487.3) scale(1.045 1)" text-anchor="middle" font-size="13.4" font-family="Liberation Sans, sans-serif" fill="#111">0.5</text>
<text transform="translate(197.87 487.3) scale(1.045 1)" text-anchor="middle" font-size="13.4" font-family="Liberation Sans, sans-serif" fill="#111">1.0</text>
<text transform="translate(260.2 487.3) scale(1.045 1)" text-anchor="middle" font-size="13.4" font-family="Liberation Sans, sans-serif" fill="#111">1.5</text>
<text transform="translate(135.7 512) scale(1 1)" text-anchor="start" font-size="13.8" font-family="Liberation Sans, sans-serif" fill="#111">E</text>
<text transform="translate(144.8 514.5) scale(1 1)" text-anchor="start" font-size="10.6" font-family="Liberation Sans, sans-serif" fill="#111">cut</text>
<text transform="translate(166.85 512) scale(1 1)" text-anchor="start" font-size="13.8" font-family="Liberation Sans, sans-serif" fill="#111">(GeV)</text>
<text transform="translate(417.7 354) scale(1 1)" text-anchor="start" font-size="13.8" font-family="Liberation Sans, sans-serif" fill="#111">E</text>
<text transform="translate(426.8 356.5) scale(1 1)" text-anchor="start" font-size="10.6" font-family="Liberation Sans, sans-serif" fill="#111">cut</text>
<text transform="translate(448.85 354) scale(1 1)" text-anchor="start" font-size="13.8" font-family="Liberation Sans, sans-serif" fill="#111">(GeV)</text>
<g transform="translate(13.5 0) rotate(-90)" font-family="Liberation Sans, sans-serif" fill="#111">
<text x="-119.4" y="0" font-size="13.8">&lt;M</text>
<text x="-99" y="2.3" font-size="10.3">X</text>
<text x="-92.3" y="0" font-size="13.8">&gt;</text>
<text x="-77.1" y="0" font-size="13.8">(GeV)</text>
</g>
<g transform="translate(303.1 0) rotate(-90)" font-family="Liberation Sans, sans-serif" fill="#111">
<text x="-122.3" y="0" font-size="13.8">&lt;M</text>
<text x="-102.6" y="5" font-size="10.3">X</text>
<text x="-101.1" y="-5.6" font-size="10.3">2</text>
<text x="-92.3" y="0" font-size="13.8">&gt;</text>
<text x="-77.9" y="0" font-size="13.8">(GeV</text>
<text x="-47" y="-5.6" font-size="10.3">2</text>
<text x="-39.6" y="0" font-size="13.8">)</text>
</g>
<g transform="translate(13.5 0) rotate(-90)" font-family="Liberation Sans, sans-serif" fill="#111">
<text x="-272.1" y="0" font-size="13.8">&lt;M</text>
<text x="-251.9" y="5" font-size="10.3">X</text>
<text x="-250.4" y="-5.6" font-size="10.3">3</text>
<text x="-244.4" y="0" font-size="13.8">&gt;</text>
<text x="-229.8" y="0" font-size="13.8">(GeV</text>
<text x="-197.4" y="-5.6" font-size="10.3">3</text>
<text x="-191.6" y="0" font-size="13.8">)</text>
</g>
<g transform="translate(303.5 0) rotate(-90)" font-family="Liberation Sans, sans-serif" fill="#111">
<text x="-318.9" y="0" font-size="13.8">&lt;</text>
<text x="-310.45" y="0" font-size="13.8">(</text>
<text x="-306" y="0" font-size="13.8">M</text>
<text x="-293.9" y="5" font-size="10.3">X</text>
<text x="-292.8" y="-5.6" font-size="10.3">2</text>
<text x="-284" y="0" font-size="13.8">&#8722;</text>
<text x="-272.3" y="0" font-size="13.8">&lt;M</text>
<text x="-251.9" y="5" font-size="10.3">X</text>
<text x="-250.7" y="-5.6" font-size="10.3">2</text>
<text x="-242.3" y="0" font-size="13.8">&gt;</text>
<text x="-233.7" y="0" font-size="13.8">)</text>
<text x="-228.6" y="-5.6" font-size="10.3">2</text>
<text x="-223.1" y="0" font-size="13.8">&gt;</text>
<text x="-206.65" y="0" font-size="13.8">(GeV</text>
<text x="-174.9" y="-5.6" font-size="10.3">4</text>
<text x="-168.3" y="0" font-size="13.8">)</text>
</g>
<g transform="translate(13.5 0) rotate(-90)" font-family="Liberation Sans, sans-serif" fill="#111">
<text x="-478.4" y="0" font-size="13.8">&lt;</text>
<text x="-470.1" y="0" font-size="13.8">(</text>
<text x="-465.8" y="0" font-size="13.8">M</text>
<text x="-453.6" y="5" font-size="10.3">X</text>
<text x="-452.5" y="-5.6" font-size="10.3">2</text>
<text x="-440.25" y="0" font-size="13.8">&#8722;</text>
<text x="-428.5" y="0" font-size="13.8">&lt;M</text>
<text x="-408.5" y="5" font-size="10.3">X</text>
<text x="-407" y="-5.6" font-size="10.3">2</text>
<text x="-398.4" y="0" font-size="13.8">&gt;</text>
<text x="-390.3" y="0" font-size="13.8">)</text>
<text x="-385.2" y="-5.6" font-size="10.3">3</text>
<text x="-379.7" y="0" font-size="13.8">&gt;</text>
<text x="-363.15" y="0" font-size="13.8">(GeV</text>
<text x="-330.6" y="-5.6" font-size="10.3">6</text>
<text x="-325.3" y="0" font-size="13.8">)</text>
</g>
<circle cx="312.8" cy="404" r="4.1" fill="#000"/>
<rect x="308.8" y="425.5" width="8" height="8" fill="#ff0000"/>
<polygon points="404.8,398.9 406.13,402.47 409.94,402.63 406.96,405 407.97,408.67 404.8,406.57 401.63,408.67 402.64,405 399.66,402.63 403.47,402.47" fill="#ff00ff"/>
<polygon points="405.2,425.25 400.9,433.55 409.5,433.55" fill="#0000ff"/>
<polygon points="494.3,398.8 505.3,398.8 499.8,408.8" fill="#aa00ff"/>
<text transform="translate(325.8 409) scale(1 1)" text-anchor="start" font-size="13.9" font-family="Liberation Sans, sans-serif" fill="#111">BABAR</text>
<text transform="translate(325.8 434) scale(1 1)" text-anchor="start" font-size="13.9" font-family="Liberation Sans, sans-serif" fill="#111">BELLE</text>
<text transform="translate(416.8 409) scale(1 1)" text-anchor="start" font-size="13.9" font-family="Liberation Sans, sans-serif" fill="#111">DELPHI</text>
<text transform="translate(416.9 434) scale(1 1)" text-anchor="start" font-size="13.9" font-family="Liberation Sans, sans-serif" fill="#111">CLEO</text>
<text transform="translate(515 409) scale(1 1)" text-anchor="start" font-size="13.9" font-family="Liberation Sans, sans-serif" fill="#111">CDF</text>
<text transform="translate(551.3 507) scale(1.03 1)" text-anchor="end" font-size="9.3" font-family="Liberation Sans, sans-serif" fill="#111">3-2006</text>
<text transform="translate(552.6 516) scale(1.03 1)" text-anchor="end" font-size="9.3" font-family="Liberation Sans, sans-serif" fill="#111">8730A7</text>
</svg></body></html>
